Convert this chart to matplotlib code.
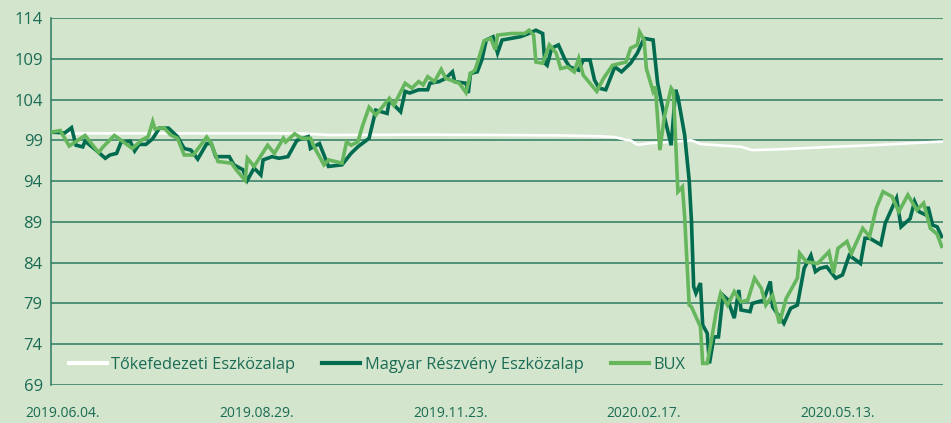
import pandas as pd
import matplotlib
matplotlib.use('Agg')
import matplotlib.pyplot as plt

# colours
bg = '#d3e5cc'
dark = '#006b4f'
light = '#66b65e'
grid_col = '#2c7a62'
text_col = '#1b6b55'

plt.rcParams['font.family'] = ['Open Sans', 'DejaVu Sans']

# data: days relative to 2019-06-04, index values
start = pd.Timestamp('2019-06-04')

toke_days = [-5, -3, 39, 105, 119, 159, 194, 221, 238, 245, 250, 252, 255, 261,
             279, 283, 301, 306, 318, 341, 355, 370, 390]
toke_vals = [100.0, 99.85, 99.85, 99.85, 99.65, 99.7, 99.65, 99.6, 99.5, 99.4,
             99.05, 99.0, 98.45, 98.65, 99.0, 98.55, 98.2, 97.8, 97.9, 98.2,
             98.35, 98.55, 98.85]

magyar_days = [-5, 1, 4, 6, 9, 10, 14, 19, 21, 24, 26, 30, 32, 34, 37, 40, 43, 47,
               51, 54, 57, 60, 64, 66, 68, 74, 76, 80, 82, 85, 88, 89, 93, 96, 100,
               104, 109, 110, 114, 116, 118, 124, 128, 131, 136, 139, 144, 145, 150,
               152, 154, 158, 162, 163, 167, 170, 173, 174, 179, 180, 181, 184, 186,
               188, 191, 193, 195, 203, 206, 210, 213, 214, 215, 217, 220, 223, 225,
               229, 231, 234, 236, 238, 241, 245, 248, 252, 255, 258, 262, 264, 267,
               270, 272, 273, 276, 278, 279, 280, 281, 283, 284, 286, 287, 289, 291,
               293, 295, 298, 300, 301, 305, 306, 311, 314, 315, 320, 323, 326, 329,
               332, 334, 336, 339, 343, 346, 349, 354, 356, 358, 363, 365, 368, 370,
               372, 376, 378, 380, 383, 384, 386, 388, 390]
magyar_vals = [100.0, 99.9, 100.55, 98.4, 98.2, 98.9, 98.0, 96.8, 97.2, 97.4, 98.8,
               98.9, 97.7, 98.5, 98.5, 99.2, 100.5, 100.5, 99.45, 98.0, 97.8, 96.7,
               98.6, 98.6, 97.0, 97.0, 96.0, 95.4, 94.1, 95.6, 94.75, 96.6, 97.0,
               96.8, 97.0, 99.0, 99.45, 98.0, 98.6, 97.2, 95.8, 96.0, 97.4, 98.2,
               99.25, 102.7, 102.3, 103.9, 102.5, 105.0, 104.8, 105.2, 105.2, 106.0,
               106.2, 106.6, 107.4, 106.2, 106.0, 104.8, 107.2, 107.4, 108.85, 111.3,
               111.7, 109.7, 111.3, 111.7, 112.0, 112.5, 112.1, 108.45, 108.2, 110.3,
               110.7, 108.85, 108.0, 107.6, 108.85, 108.85, 106.4, 105.4, 105.2, 108.0,
               107.4, 108.45, 109.7, 111.5, 111.3, 106.0, 101.9, 98.4, 105.2, 104.35,
               99.65, 94.1, 89.2, 81.05, 80.25, 81.5, 76.35, 75.35, 71.65, 74.9, 74.9,
               80.0, 79.5, 77.2, 80.65, 78.2, 78.0, 79.0, 79.4, 81.7, 78.6, 76.55,
               78.4, 78.8, 83.3, 84.9, 82.9, 83.3, 83.5, 82.1, 82.5, 84.9, 83.9, 87.0,
               87.0, 86.2, 88.85, 90.7, 91.9, 88.4, 89.4, 91.5, 90.25, 89.85, 90.85,
               88.6, 88.4, 87.2]

bux_days = [-5, -1, 3, 10, 16, 18, 23, 27, 31, 35, 38, 40, 41, 45, 48, 51, 54, 58,
            64, 66, 69, 75, 77, 81, 82, 85, 91, 94, 98, 99, 103, 106, 110, 112, 116,
            118, 124, 126, 128, 131, 133, 136, 139, 145, 147, 152, 155, 158, 160, 162,
            165, 168, 170, 176, 179, 181, 183, 184, 187, 190, 192, 193, 199, 205, 207,
            209, 210, 213, 216, 219, 221, 224, 227, 229, 231, 237, 240, 244, 250, 252,
            255, 256, 258, 259, 262, 263, 265, 267, 270, 271, 273, 275, 276, 278, 279,
            283, 284, 286, 288, 290, 292, 295, 298, 301, 304, 307, 310, 312, 315, 318,
            321, 326, 327, 330, 335, 340, 342, 344, 348, 350, 355, 358, 361, 364, 368,
            371, 375, 379, 382, 385, 388, 390]
bux_vals = [100.0, 100.2, 98.3, 99.6, 97.5, 98.2, 99.6, 98.8, 98.0, 99.0, 99.45,
            101.3, 100.4, 100.55, 99.65, 99.25, 97.2, 97.2, 99.4, 98.6, 96.4, 96.2,
            95.4, 94.1, 96.8, 95.8, 98.4, 97.4, 99.25, 98.8, 99.8, 99.25, 99.25, 98.0,
            96.0, 96.6, 96.2, 98.8, 98.4, 98.8, 100.7, 103.05, 102.1, 104.15, 103.3,
            106.0, 105.4, 106.2, 105.8, 106.8, 106.2, 107.7, 106.6, 106.0, 104.85,
            107.2, 107.6, 108.45, 111.2, 111.5, 110.1, 111.9, 112.1, 112.1, 112.5,
            111.9, 108.6, 108.45, 110.7, 109.7, 107.8, 108.0, 107.4, 109.05, 107.0,
            105.0, 106.6, 108.2, 108.6, 110.3, 110.7, 112.3, 111.3, 107.8, 105.0,
            105.6, 97.8, 101.9, 105.4, 105.0, 92.7, 93.3, 89.6, 78.8, 78.6, 76.15,
            71.65, 71.65, 74.7, 78.0, 80.25, 78.8, 80.45, 79.2, 79.4, 82.1, 80.85,
            78.8, 80.0, 76.55, 79.6, 82.1, 85.15, 84.1, 83.9, 85.35, 82.7, 85.75,
            86.6, 85.15, 88.2, 87.2, 90.7, 92.7, 92.1, 90.25, 92.3, 90.45, 91.3,
            88.2, 87.5, 86.0]

tick_labels = ['2019.06.04.', '2019.08.29.', '2019.11.23.', '2020.02.17.', '2020.05.13.']
y_ticks = [69, 74, 79, 84, 89, 94, 99, 104, 109, 114]


def to_dates(days):
    return start + pd.to_timedelta(days, unit='D')


fig = plt.figure(figsize=(9.51, 4.23), dpi=100, facecolor=bg)
ax = fig.add_axes([51 / 951, 38 / 423, 892 / 951, 367 / 423])
ax.set_facecolor(bg)

ax.plot(to_dates(toke_days), toke_vals, color='white', lw=1.9,
        label='Tőkefedezeti Eszközalap', zorder=3)
ax.plot(to_dates(magyar_days), magyar_vals, color=dark, lw=2.6,
        label='Magyar Részvény Eszközalap', zorder=4, solid_joinstyle='miter')
ax.plot(to_dates(bux_days), bux_vals, color=light, lw=2.6,
        label='BUX', zorder=5, solid_joinstyle='miter')

ax.set_ylim(69, 114)
ax.set_yticks(y_ticks)
ax.set_xlim(start + pd.Timedelta(days=-5.1), start + pd.Timedelta(days=390.6))
tick_dates = [pd.to_datetime(t.strip('.'), format='%Y.%m.%d') for t in tick_labels]
ax.set_xticks(tick_dates)
ax.set_xticklabels(tick_labels)

ax.grid(axis='y', color=grid_col, lw=1.1, zorder=1)
ax.grid(axis='x', visible=False)
for s in ['top', 'right', 'bottom']:
    ax.spines[s].set_visible(False)
ax.spines['left'].set_color(grid_col)
ax.spines['left'].set_linewidth(1.1)

ax.tick_params(axis='y', length=0, pad=6, labelsize=12, labelcolor=text_col)
ax.tick_params(axis='x', length=0, pad=15, labelsize=10, labelcolor=text_col)

leg = ax.legend(loc='center left', bbox_to_anchor=(0.02, 0.054), ncol=3,
                frameon=False, fontsize=11.8, handlelength=2.3,
                handletextpad=0.3, columnspacing=1.65, borderpad=0,
                borderaxespad=0)
for t in leg.get_texts():
    t.set_color(text_col)
for h in leg.get_lines():
    h.set_linewidth(3)

fig.savefig('out.png', dpi=100, facecolor=bg)
